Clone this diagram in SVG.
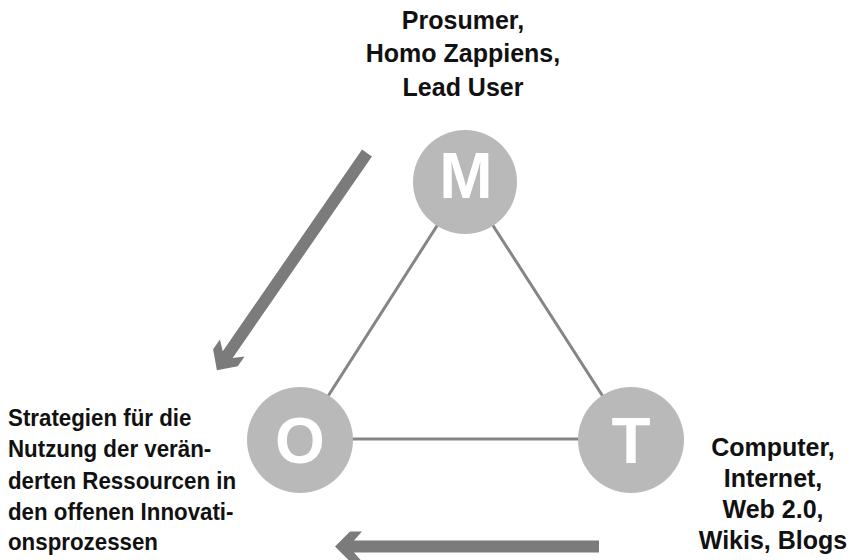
<svg xmlns="http://www.w3.org/2000/svg" width="853" height="560" viewBox="0 0 853 560">
  <style>
    .edge { stroke: #858585; stroke-width: 3; fill: none; }
    .node circle { fill: #b9b9b9; }
    .node text { font-family: "Liberation Sans", Arial, sans-serif; font-weight: bold; font-size: 64px; fill: #ffffff; text-anchor: middle; }
    .flow { fill: #7b7b7b; }
    .label { font-family: "Liberation Sans", Arial, sans-serif; font-weight: bold; font-size: 25px; fill: #111111; }
    .mid { text-anchor: middle; }
    .side { font-size: 24px; }
  </style>
  <defs>
    <!-- thick arrow pointing along +x, tip at x=264 -->
    <path id="bigArrow" d="M0,-6 L245,-6 L237,-15 L249,-15 L264,0 L249,15 L237,15 L245,6 L0,6 Z"/>
  </defs>

  <!-- connectors of the triangle -->
  <g id="connectors">
    <line class="edge" x1="465" y1="182" x2="300" y2="440"/>
    <line class="edge" x1="465" y1="182" x2="631" y2="440"/>
    <line class="edge" x1="300" y1="439" x2="631" y2="439"/>
  </g>

  <!-- flow arrows -->
  <g id="flows" class="flow">
    <use href="#bigArrow" transform="translate(367,153) rotate(124.65)"/>
    <use href="#bigArrow" transform="translate(599,546.5) rotate(180)"/>
  </g>

  <g id="node-M" class="node">
    <circle cx="465" cy="182" r="52"/>
    <text x="466" y="198">M</text>
  </g>
  <g id="node-O" class="node">
    <circle cx="300" cy="440" r="53"/>
    <text x="300" y="463">O</text>
  </g>
  <g id="node-T" class="node">
    <circle cx="631" cy="440" r="53"/>
    <text x="631" y="463">T</text>
  </g>

  <g id="label-M" class="label mid">
    <text x="463" y="29">Prosumer,</text>
    <text x="463" y="62">Homo Zappiens,</text>
    <text x="463" y="96">Lead User</text>
  </g>

  <!-- slightly condensed paragraph on the left -->
  <g id="label-O" class="label side" transform="translate(8,0) scale(0.93,1)">
    <text x="0" y="426">Strategien für die</text>
    <text x="0" y="457">Nutzung der verän-</text>
    <text x="0" y="489">derten Ressourcen in</text>
    <text x="0" y="520">den offenen Innovati-</text>
    <text x="0" y="550">onsprozessen</text>
  </g>

  <g id="label-T" class="label mid">
    <text x="773" y="456">Computer,</text>
    <text x="773" y="487">Internet,</text>
    <text x="773" y="518">Web 2.0,</text>
    <text x="773" y="549">Wikis, Blogs</text>
  </g>
</svg>
